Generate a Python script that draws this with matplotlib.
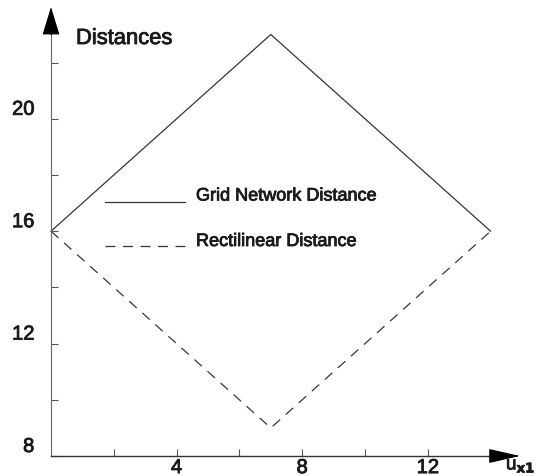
import numpy as np
import matplotlib
matplotlib.use("Agg")
import matplotlib.pyplot as plt
import matplotlib.patheffects as pe
from matplotlib.lines import Line2D

plt.rcParams['font.family'] = ['Liberation Sans', 'DejaVu Sans']

# data
u_grid = [0, 7, 14]
d_grid = [16, 23, 16]
u_rect = [0, 7, 14]
d_rect = [16, 9, 16]
series_labels = ["Grid Network Distance", "Rectilinear Distance"]
xticks_major = [4, 8, 12]
xticks_minor = [2, 6, 10]
yticks_major = [8, 12, 16, 20]
yticks_minor = [10, 14, 18, 22]

# pixel calibration of the scan (origin px, px per unit)
W, H = 538, 477
x0_px, x_scale = 51, 31.4
y0_px, y_scale = 457, 28.1

txt_col = '#1c1a1b'
# the scanned type is a little heavier than regular weight
heavy = [pe.withStroke(linewidth=0.6, foreground=txt_col)]


def px(x, y):
    # figure fraction from pixel position (top-left origin)
    return x / W, 1 - y / H


fig = plt.figure(figsize=(W / 100, H / 100), dpi=100)
ax = fig.add_axes([0, 0, 1, 1])
ax.set_xlim(-x0_px / x_scale, (W - x0_px) / x_scale)
ax.set_ylim(8 - (H - y0_px) / y_scale, 8 + y0_px / y_scale)
ax.patch.set_alpha(0)

line_col = '#3a3436'
ls_dash = (0, (8, 6))
ax.plot(u_grid, d_grid, color=line_col, lw=0.9)
ax.plot(u_rect, d_rect, color=line_col, lw=0.9, linestyle=ls_dash)

# axes with arrows
for s in ['top', 'right']:
    ax.spines[s].set_visible(False)
ax.spines['left'].set_position(('data', 0))
ax.spines['left'].set_bounds(8, 23.2)
ax.spines['left'].set_color('#666666')
ax.spines['left'].set_linewidth(0.8)
ax.spines['bottom'].set_position(('data', 8))
ax.spines['bottom'].set_bounds(0, 14.2)
ax.spines['bottom'].set_color('#333333')
ax.spines['bottom'].set_linewidth(1.0)

ax.annotate('', xy=(0, 23.98), xytext=(0, 23.0),
            arrowprops=dict(arrowstyle='-|>,head_length=1.8,head_width=0.55',
                            mutation_scale=10, color='black', lw=0.8,
                            shrinkA=0, shrinkB=0))
ax.annotate('', xy=(14.94, 8), xytext=(14.0, 8),
            arrowprops=dict(arrowstyle='-|>,head_length=2.0,head_width=0.45',
                            mutation_scale=10, color='black', lw=0.8,
                            shrinkA=0, shrinkB=0))

ax.set_xticks(xticks_major)
ax.set_xticks(xticks_minor, minor=True)
ax.set_yticks(yticks_major)
ax.set_yticks(yticks_minor, minor=True)
ax.tick_params(which='both', direction='in', length=5, width=0.8, color='#555555')
ax.tick_params(axis='x', pad=1.5, labelsize=14.5, labelcolor=txt_col)
ax.tick_params(axis='y', pad=12, labelsize=14.5, labelcolor=txt_col)
for lbl in ax.get_yticklabels():
    lbl.set_va('bottom')
    lbl.set_path_effects(heavy)
for lbl in ax.get_xticklabels():
    lbl.set_path_effects(heavy)

fig.text(*px(76, 45), "Distances", fontsize=15.8, va='baseline', ha='left',
         color=txt_col, path_effects=heavy)
fig.text(*px(506, 467), r'u$_{\mathbf{x1}}$', fontsize=13.5, va='center', ha='left',
         color=txt_col, path_effects=heavy)

# legend drawn by hand to match the scan
leg_rows = [(203, 201.5, '-'), (247, 247, ls_dash)]
for (y_line, y_text, ls), lab in zip(leg_rows, series_labels):
    (xa, ya), (xb, _) = px(105, y_line), px(185, y_line)
    fig.add_artist(Line2D([xa, xb], [ya, ya], color=line_col, lw=0.9, linestyle=ls))
    fig.text(*px(196, y_text), lab, fontsize=13, va='baseline', ha='left',
             color=txt_col, path_effects=heavy)

fig.savefig("out.png", dpi=100)
